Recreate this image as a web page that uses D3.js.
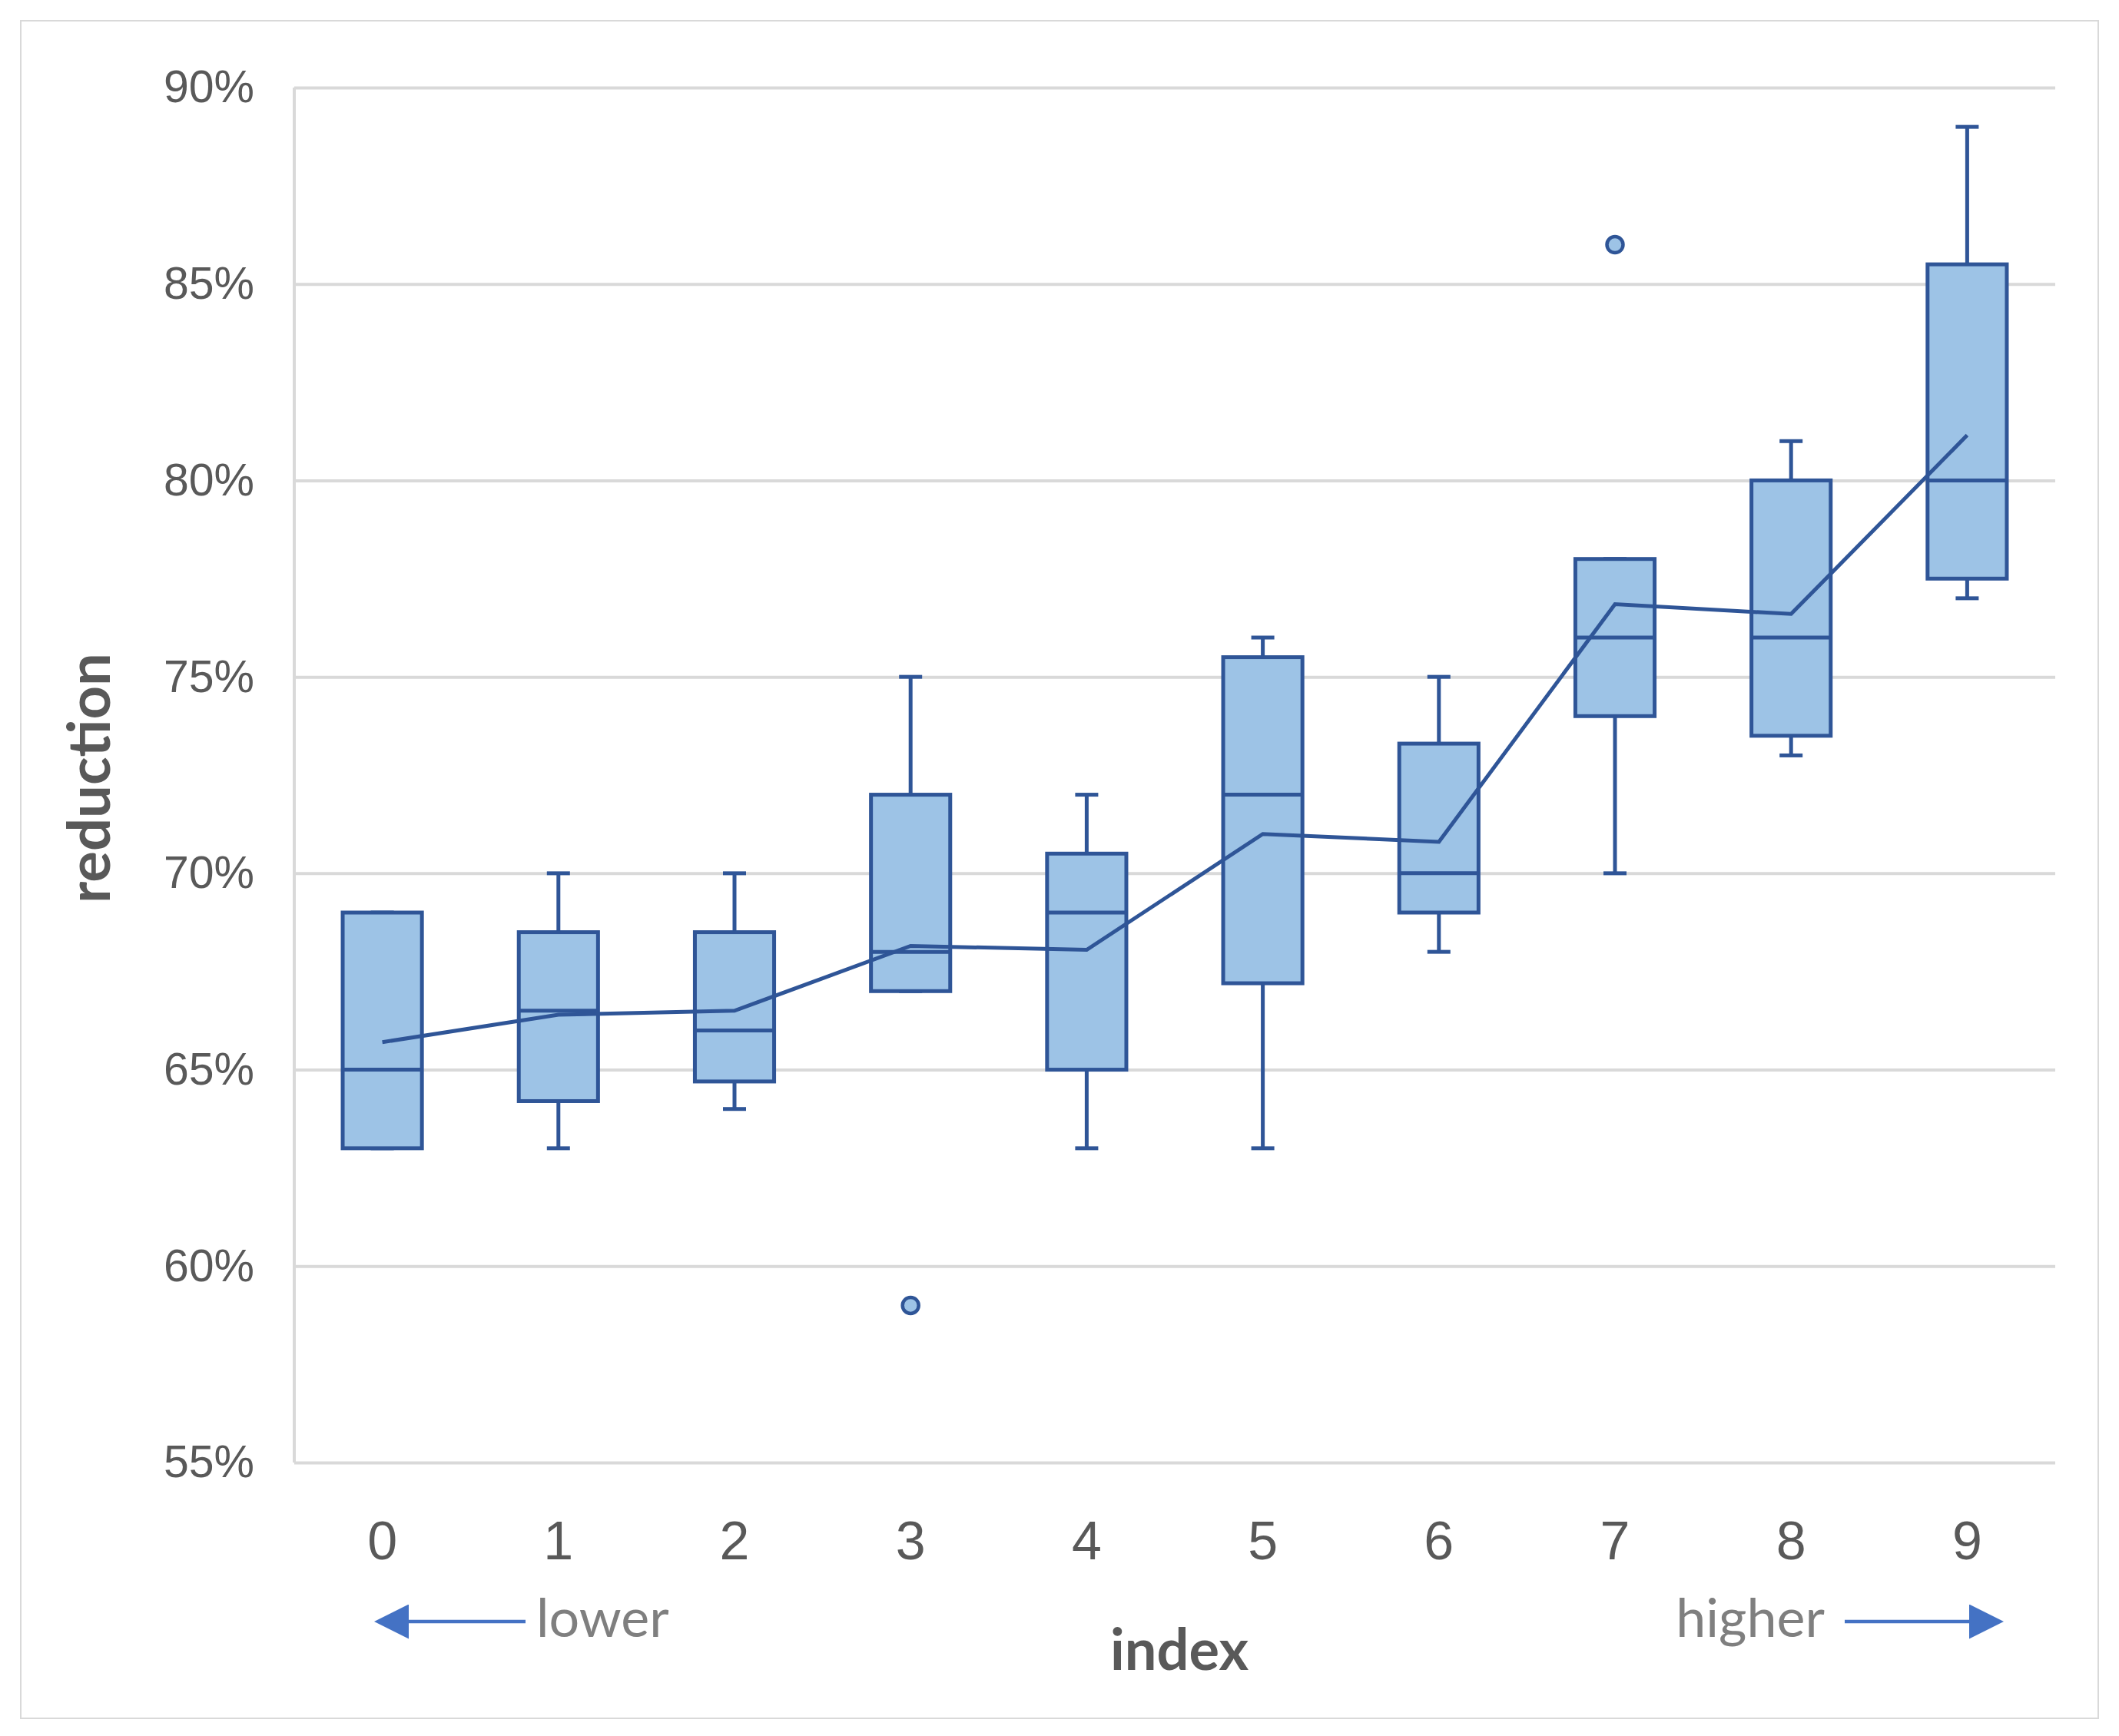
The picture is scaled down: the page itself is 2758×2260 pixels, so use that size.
<!DOCTYPE html>
<html>
<head>
<meta charset="utf-8">
<script src="https://cdn.jsdelivr.net/npm/d3@7"></script>
<style>
  html, body { margin: 0; padding: 0; background: #fff; }
  svg { display: block; font-family: Lato, "Open Sans", sans-serif; }
</style>
</head>
<body>
<div id="chart"></div>
<script>
// values (percent)
const categories = ['0', '1', '2', '3', '4', '5', '6', '7', '8', '9'];
const minVals    = [63, 63, 64, 67, 63, 63, 68, 70, 73, 77];
const q1Vals     = [63, 64.2, 64.7, 67, 65, 67.2, 69, 74, 73.5, 77.5];
const medianVals = [65, 66.5, 66, 68, 69, 72, 70, 76, 76, 80];
const q3Vals     = [69, 68.5, 68.5, 72, 70.5, 75.5, 73.3, 78, 80, 85.5];
const maxVals    = [69, 70, 70, 75, 72, 76, 75, 78, 81, 89];
const meanVals   = [65.7, 66.4, 66.5, 68.15, 68.05, 71.0, 70.8, 76.85, 76.6, 81.15];
const outlierCats = ['3', '7'];
const outlierVals = [59, 86];
const yTicks = [55, 60, 65, 70, 75, 80, 85, 90];

const W = 2758, H = 2260;
const margin = {t: 114, r: 83, b: 356, l: 383};
const width = W - margin.l - margin.r;
const height = H - margin.t - margin.b;

const boxStroke = '#2F5597';
const boxFill = '#9DC3E6';
const arrowColor = '#4472C4';

const data = categories.map((c, i) => ({
  cat: c, min: minVals[i], q1: q1Vals[i], med: medianVals[i],
  q3: q3Vals[i], max: maxVals[i], mean: meanVals[i]
}));

const svg = d3.select('#chart').append('svg').attr('width', W).attr('height', H);

// outer chart border
svg.append('rect').attr('x', 27).attr('y', 27).attr('width', W - 54).attr('height', H - 50)
   .attr('fill', '#fff').attr('stroke', '#D9D9D9').attr('stroke-width', 2);

const mainG = svg.append('g').attr('transform', `translate(${margin.l},${margin.t})`);

//scales
const xScale = d3.scaleBand().domain(categories).range([0, width]);
const yScale = d3.scaleLinear().domain([55, 90]).range([height, 0]);
const bw = xScale.bandwidth() * 0.45;
const cx = c => xScale(c) + xScale.bandwidth() / 2;

//grid + y axis
mainG.append('g').attr('class', 'y-axis')
   .call(d3.axisLeft(yScale).tickValues(yTicks).tickFormat(d => d + '%').tickSize(0).tickPadding(52))
   .call(g => g.select('.domain').remove())
   .call(g => g.selectAll('.tick text').attr('fill', '#595959').style('font-size', '59px'))
   .call(g => g.selectAll('.tick line').clone().attr('x2', width).attr('stroke', '#D9D9D9').attr('stroke-width', 4));

mainG.append('line').attr('x1', 0).attr('x2', 0).attr('y1', 0).attr('y2', height)
   .attr('stroke', '#D9D9D9').attr('stroke-width', 4);

//x axis
mainG.append('g').attr('class', 'x-axis').attr('transform', `translate(0,${height})`)
   .call(d3.axisBottom(xScale).tickSize(0).tickPadding(76))
   .call(g => g.select('.domain').remove())
   .call(g => g.selectAll('.tick text').attr('fill', '#595959').style('font-size', '70px'));

//whiskers
const boxes = mainG.append('g').selectAll('.box').data(data).join('g').attr('class', 'box');
boxes.append('line')
   .attr('x1', d => cx(d.cat)).attr('x2', d => cx(d.cat))
   .attr('y1', d => yScale(d.max)).attr('y2', d => yScale(d.min))
   .attr('stroke', boxStroke).attr('stroke-width', 5);
boxes.selectAll('.cap').data(d => [[d.cat, d.max], [d.cat, d.min]]).join('line')
   .attr('x1', d => cx(d[0]) - 15).attr('x2', d => cx(d[0]) + 15)
   .attr('y1', d => yScale(d[1])).attr('y2', d => yScale(d[1]))
   .attr('stroke', boxStroke).attr('stroke-width', 5);

//box
boxes.append('rect')
   .attr('x', d => cx(d.cat) - bw / 2).attr('width', bw)
   .attr('y', d => yScale(d.q3)).attr('height', d => yScale(d.q1) - yScale(d.q3))
   .attr('fill', boxFill).attr('stroke', boxStroke).attr('stroke-width', 5);
boxes.append('line')
   .attr('x1', d => cx(d.cat) - bw / 2).attr('x2', d => cx(d.cat) + bw / 2)
   .attr('y1', d => yScale(d.med)).attr('y2', d => yScale(d.med))
   .attr('stroke', boxStroke).attr('stroke-width', 5);

//mean line
mainG.append('path').datum(data)
   .attr('d', d3.line().x(d => cx(d.cat)).y(d => yScale(d.mean)))
   .attr('fill', 'none').attr('stroke', boxStroke).attr('stroke-width', 5);

//outliers
mainG.append('g').selectAll('circle').data(outlierCats).join('circle')
   .attr('cx', d => cx(d)).attr('cy', (d, i) => yScale(outlierVals[i]))
   .attr('r', 10.5).attr('fill', boxFill).attr('stroke', boxStroke).attr('stroke-width', 4.5);

//axis titles
svg.append('text').attr('transform', 'translate(143,1013) rotate(-90)')
   .attr('text-anchor', 'middle').attr('fill', '#595959')
   .style('font-size', '76px').style('font-weight', 'bold').text('reduction');
svg.append('text').attr('x', 1535).attr('y', 2174).attr('text-anchor', 'middle')
   .attr('fill', '#595959').style('font-size', '74px').style('font-weight', 'bold').text('index');

//lower / higher annotations
svg.append('text').attr('x', 698).attr('y', 2131).attr('fill', '#7F7F7F')
   .style('font-size', '70px').text('lower');
svg.append('text').attr('x', 2375).attr('y', 2131).attr('text-anchor', 'end').attr('fill', '#7F7F7F')
   .style('font-size', '70px').text('higher');

const defs = svg.append('defs');
defs.append('marker').attr('id', 'arrowhead').attr('viewBox', '0 0 10 10')
   .attr('refX', 0).attr('refY', 5).attr('markerWidth', 10).attr('markerHeight', 10)
   .attr('markerUnits', 'strokeWidth').attr('orient', 'auto')
   .append('path').attr('d', 'M0,0 L10,5 L0,10 Z').attr('fill', arrowColor);

svg.append('line').attr('x1', 684).attr('x2', 532).attr('y1', 2111).attr('y2', 2111)
   .attr('stroke', arrowColor).attr('stroke-width', 4.5).attr('marker-end', 'url(#arrowhead)');
svg.append('line').attr('x1', 2401).attr('x2', 2563).attr('y1', 2111).attr('y2', 2111)
   .attr('stroke', arrowColor).attr('stroke-width', 4.5).attr('marker-end', 'url(#arrowhead)');
</script>
</body>
</html>
